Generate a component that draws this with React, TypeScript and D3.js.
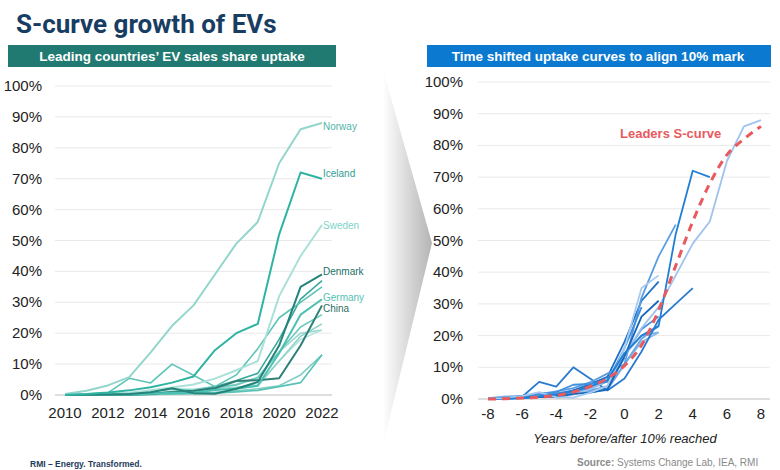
import React from 'react';
import * as d3 from 'd3';

// years on the left chart
const years = [2010, 2011, 2012, 2013, 2014, 2015, 2016, 2017, 2018, 2019, 2020, 2021, 2022];
const yearTicks = [2010, 2012, 2014, 2016, 2018, 2020, 2022];
const pctTicks = [0, 10, 20, 30, 40, 50, 60, 70, 80, 90, 100];
const shiftTicks = [-8, -6, -4, -2, 0, 2, 4, 6, 8];

// EV sales share (%) by country, 2010-2022
const norway = [0.3, 1.4, 3.1, 5.8, 13.8, 22.4, 29, 39, 49, 56, 75, 86, 88];
const iceland = [0, 0.3, 0.8, 1.5, 2.5, 4, 6, 14.5, 20, 23, 52, 72, 70];
const sweden = [0, 0.1, 0.5, 0.7, 1.5, 2.4, 3.4, 5.3, 8, 11, 32, 45, 55];
const denmark = [0, 0.1, 0.2, 0.3, 0.9, 2.2, 0.6, 0.4, 2, 4.2, 16, 35, 39];
const germany = [0, 0, 0.1, 0.2, 0.4, 0.7, 0.7, 1.6, 2, 3, 13.5, 26, 31];
const china = [0, 0, 0.1, 0.1, 0.3, 1, 1.4, 2.2, 4.5, 4.8, 5.4, 16, 29];
const netherlands = [0.1, 0.3, 0.7, 5.4, 3.9, 10, 6.4, 2.7, 6.5, 15, 25, 30, 35];
const finland = [0, 0, 0.1, 0.3, 0.5, 0.7, 1, 2.7, 4.7, 7, 18, 31, 37];
const uk = [0, 0, 0.1, 0.2, 0.6, 1, 1.4, 1.9, 2.5, 3.2, 11, 19, 23];
const france = [0, 0.1, 0.3, 0.8, 0.8, 1.2, 1.5, 1.7, 2.2, 2.8, 11, 18, 21];
const switzerland = [0, 0.1, 0.2, 0.6, 1, 1.9, 1.8, 2.7, 3.2, 5.6, 14, 22, 26];
const portugal = [0, 0, 0, 0.1, 0.3, 0.7, 1.1, 1.9, 3.5, 5.7, 14, 20, 21];
const otherA = [0, 0, 0, 0.1, 0.2, 0.3, 0.4, 0.6, 1, 1.5, 2.7, 4, 13];
const otherB = [0, 0, 0, 0.1, 0.2, 0.4, 0.6, 0.9, 1.4, 2, 3, 6.5, 13];

// year each country crossed 10% (x = 0 on right chart)
const countries = ['Norway', 'Iceland', 'Sweden', 'Denmark', 'Germany', 'China', 'Netherlands', 'Finland', 'UK', 'France', 'Switzerland', 'Portugal', 'Other A', 'Other B'];
const shares = [norway, iceland, sweden, denmark, germany, china, netherlands, finland, uk, france, switzerland, portugal, otherA, otherB];
const tenPctYear = [2014, 2017, 2019, 2020, 2020, 2021, 2018, 2020, 2020, 2020, 2020, 2020, 2022, 2022];
const tealColors = ['#93d6cc', '#2fb3a3', '#a9e0d8', '#24847a', '#4cc0b2', '#2e7f77', '#5cc4b7', '#3aa99c', '#8fd3c9', '#b5e4dd', '#6ccabe', '#9bd9d0', '#58c2b5', '#80cfc4'];
const blueColors = ['#9fc3ee', '#1f7fd4', '#5a9de3', '#a9cbf0', '#1565b8', '#3d8fe0', '#2a7bd0', '#1a6fc6', '#6aa6e6', '#8db8ea', '#4b94de', '#78aee8', '#5c9fe4', '#b5d2f3'];

const labelNames = ['Norway', 'Iceland', 'Sweden', 'Denmark', 'Germany', 'China'];
const labelY = [126, 173, 225, 271, 297, 308];
const labelColors = ['#4fb5a8', '#2f9e92', '#7dd3c7', '#226f68', '#56bfb2', '#2c6e68'];

// leaders S-curve, years from 10% mark
const sCurveX = [-8, -7, -6, -5, -4, -3, -2, -1, 0, 1, 2, 3, 4, 5, 6, 7, 8];
const sCurveY = [0, 0.1, 0.3, 0.6, 1.1, 2.2, 4, 6.5, 10.5, 17, 28, 42, 56, 68, 77, 82, 86];

const FONT = '"Liberation Sans", Arial, sans-serif';

export default function App() {
  const xL = d3.scaleLinear().domain([2010, 2022]).range([65, 322]);
  const yL = d3.scaleLinear().domain([0, 100]).range([395, 86]);
  const xR = d3.scaleLinear().domain([-8, 8]).range([488, 761]);
  const yR = d3.scaleLinear().domain([0, 100]).range([399, 82]);

  const lineL = d3.line<[number, number]>().x(d => xL(d[0])).y(d => yL(d[1]));
  const lineR = d3.line<[number, number]>().x(d => xR(d[0])).y(d => yR(d[1]));
  const sLine = d3.line<[number, number]>().x(d => xR(d[0])).y(d => yR(d[1])).curve(d3.curveMonotoneX);

  // draw thin/light first, labelled on top
  const order = [13, 12, 11, 10, 9, 8, 7, 6, 2, 0, 5, 4, 3, 1];

  return (
    <div style={{ position: 'absolute', left: 0, top: 0 }}>
      <svg width={780} height={470} style={{ display: 'block', fontFamily: FONT }}>
        <defs>
          <linearGradient id="arrowGrad" x1="0" x2="1" y1="0" y2="0">
            <stop offset="0%" stopColor="#ffffff" />
            <stop offset="100%" stopColor="#b4b4b4" />
          </linearGradient>
        </defs>
        <rect width={780} height={470} fill="#fff" />

        <text x={16} y={33} fontFamily="Roboto, sans-serif" fontWeight={700} fontSize={26} fill="#173d63">
          S-curve growth of EVs
        </text>

        {/* header bars */}
        <rect x={8} y={45} width={328} height={22} fill="#217a72" />
        <text x={172} y={61} textAnchor="middle" fill="#fff" fontWeight={700} fontSize={13.5}>
          Leading countries’ EV sales share uptake
        </text>
        <rect x={427} y={45} width={344} height={22} fill="#0b79d0" />
        <text x={598} y={61} textAnchor="middle" fill="#fff" fontWeight={700} fontSize={13.5}>
          Time shifted uptake curves to align 10% mark
        </text>

        {/* arrow */}
        <polygon points="383,70 432,243 383,445" fill="url(#arrowGrad)" />

        {/* left chart */}
        {pctTicks.map(t => (
          <g key={'gl' + t}>
            <line x1={55} x2={332} y1={yL(t)} y2={yL(t)} stroke={t === 0 ? '#bdbdbd' : '#e9e9e9'} strokeWidth={1} />
            <text x={42} y={yL(t) + 5} textAnchor="end" fontSize={15} fill="#222">{t}%</text>
          </g>
        ))}
        {yearTicks.map(t => (
          <text key={'xl' + t} x={xL(t)} y={418} textAnchor="middle" fontSize={15} fill="#222">{t}</text>
        ))}
        {order.map(i => (
          <path
            key={'l' + i}
            d={lineL(years.map((yr, j) => [yr, shares[i][j]] as [number, number])) || ''}
            fill="none"
            stroke={tealColors[i]}
            strokeWidth={i < 6 ? 2 : 1.6}
            strokeLinejoin="round"
          />
        ))}
        {labelNames.map((n, i) => (
          <text key={n} x={323} y={labelY[i] + 3.5} fontSize={10} fill={labelColors[i]}>{n}</text>
        ))}

        {/* right chart */}
        {pctTicks.map(t => (
          <g key={'gr' + t}>
            <line x1={478} x2={770} y1={yR(t)} y2={yR(t)} stroke={t === 0 ? '#bdbdbd' : '#e9e9e9'} strokeWidth={1} />
            <text x={463} y={yR(t) + 5} textAnchor="end" fontSize={15} fill="#222">{t}%</text>
          </g>
        ))}
        {shiftTicks.map(t => (
          <text key={'xr' + t} x={xR(t)} y={419} textAnchor="middle" fontSize={15} fill="#222">{t}</text>
        ))}
        {order.map(i => {
          const pts = years
            .map((yr, j) => [yr - tenPctYear[i], shares[i][j]] as [number, number])
            .filter(d => d[0] >= -8);
          return (
            <path
              key={'r' + i}
              d={lineR(pts) || ''}
              fill="none"
              stroke={blueColors[i]}
              strokeWidth={1.8}
              strokeLinejoin="round"
            />
          );
        })}
        <path
          d={sLine(sCurveX.map((x, j) => [x, sCurveY[j]] as [number, number])) || ''}
          fill="none"
          stroke="#e85a5e"
          strokeWidth={3}
          strokeDasharray="8,6"
        />
        <text x={620} y={138} fontSize={13} fontWeight={700} fill="#e85a5e">Leaders S-curve</text>
        <text x={625} y={443} textAnchor="middle" fontSize={13} fontStyle="italic" fill="#222">
          Years before/after 10% reached
        </text>

        {/* footer */}
        <text x={577} y={466} fontSize={10} fill="#8a8a8a">
          <tspan fontWeight={700}>Source:</tspan> Systems Change Lab, IEA, RMI
        </text>
        <text x={30} y={467} fontSize={8.5} fontWeight={700} fill="#1f3b5c">RMI – Energy. Transformed.</text>
      </svg>
    </div>
  );
}
